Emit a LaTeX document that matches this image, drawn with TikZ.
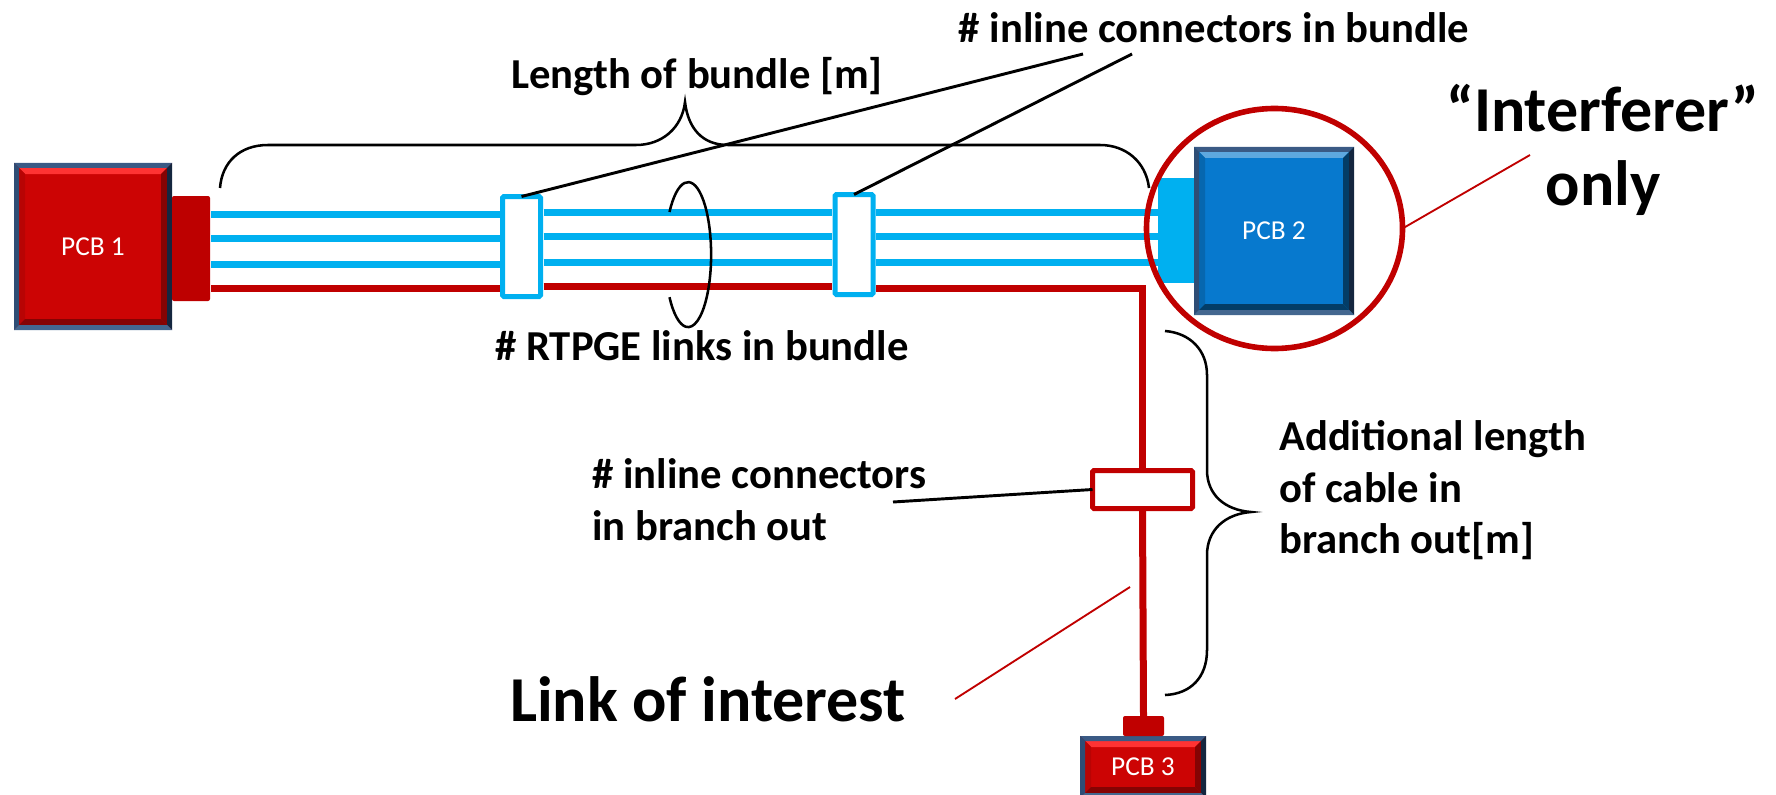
\documentclass[tikz,border=0pt]{standalone}
\usepackage{fontspec}
\setmainfont{Carlito}
\usepackage{tikz}
\usetikzlibrary{calc,shapes.geometric}

\definecolor{cableblue}{HTML}{00B0F0}
\definecolor{cablered}{HTML}{C00000}
\definecolor{facered}{HTML}{CC0404}
\definecolor{faceblue}{HTML}{0779CE}
\definecolor{frametop}{HTML}{3A5A85}
\definecolor{frameleft}{HTML}{2E4D75}
\definecolor{frameright}{HTML}{14263F}
\definecolor{framebottom}{HTML}{43678F}

\tikzset{
	pcbnode/.style={rectangle,inner sep=0pt,outer sep=0pt,text=white,font=\fontsize{20.5}{24}\selectfont},
	plugnode/.style={rectangle,inner sep=0pt,outer sep=0pt,rounded corners=1.5pt},
	inlinebox/.style={rectangle,draw,fill=white,line width=3.75pt,inner sep=0pt,outer sep=0pt,rounded corners=1pt},
	bluecable/.style={cableblue,line width=5.25pt},
	redcable/.style={cablered,line width=5.25pt},
	bracket/.style={black,line width=1.9pt},
	leader/.style={black,line width=2.2pt},
	redleader/.style={cablered,line width=1.4pt},
	label/.style={inner sep=0pt,font=\fontsize{32}{38.6}\selectfont\bfseries,align=left},
	biglabel/.style={inner sep=0pt,font=\fontsize{48}{55}\selectfont\bfseries,align=center},
}

\newcommand{\pcbbevel}[5]{%
	\coordinate (o1) at (#1.north west);
	\coordinate (o2) at (#1.south east);
	\coordinate (m1) at ($(o1)+(5,5)$);
	\coordinate (m2) at ($(o2)+(-5,-5)$);
	\coordinate (i1) at ($(m1)+(6,6)$);
	\coordinate (i2) at ($(m2)+(-6,-6)$);
	\fill[fill=#2] (m1) -- (m1 -| m2) -- (i1 -| i2) -- (i1) -- cycle;
	\fill[fill=#3] (m1) -- (m1 |- m2) -- (i1 |- i2) -- (i1) -- cycle;
	\fill[fill=#4] (m2) -- (m1 -| m2) -- (i1 -| i2) -- (i2) -- cycle;
	\fill[fill=#5] (m2) -- (m1 |- m2) -- (i1 |- i2) -- (i2) -- cycle;
	\fill[fill=frametop] (o1) -- (o1 -| o2) -- (m1 -| m2) -- (m1) -- cycle;
	\fill[fill=frameleft] (o1) -- (o1 |- o2) -- (m1 |- m2) -- (m1) -- cycle;
	\fill[fill=frameright] (o2) -- (o1 -| o2) -- (m1 -| m2) -- (m2) -- cycle;
	\fill[fill=framebottom] (o2) -- (o1 |- o2) -- (m1 |- m2) -- (m2) -- cycle;
}

\begin{document}
\begin{tikzpicture}[x=0.75pt,y=0.75pt,yscale=-1,xscale=1]
	\clip (0,0) rectangle (1776,795);
	\path[use as bounding box] (0,0) rectangle (1776,795);

	%PCBs and their plugs
	\node[pcbnode,fill=facered,minimum width=118.5pt,minimum height=125.25pt] (pcba) at (93,246.5) {PCB 1};
	\pcbbevel{pcba}{red!80!white}{facered!90!black}{facered!65!black}{facered!65!black}
	\node[pcbnode,fill=faceblue,minimum width=120pt,minimum height=126pt] (pcbb) at (1274,231) {PCB 2};
	\pcbbevel{pcbb}{faceblue!65!white}{faceblue!85!black}{faceblue!50!black}{faceblue!50!black}
	\node[pcbnode,fill=facered,minimum width=94.5pt,minimum height=46.5pt] (pcbc) at (1143,767) {PCB 3};
	\pcbbevel{pcbc}{red!80!white}{facered!90!black}{facered!65!black}{facered!65!black}
	\node[plugnode,fill=red!74!black,minimum width=28.5pt,minimum height=78.75pt] (pluga) at (191,248.5) {};
	\node[plugnode,fill=cableblue,rounded corners=0pt,minimum width=27pt,minimum height=78.75pt] (plugb) at (1176,230.5) {};
	\node[plugnode,fill=cablered,minimum width=30.75pt,minimum height=15pt] (plugc) at (1143.5,726) {};

	%Inline connectors
	\node[inlinebox,draw=cableblue,minimum width=28.5pt,minimum height=75pt] (boxa) at (521.5,246.5) {};
	\node[inlinebox,draw=cableblue,minimum width=28.5pt,minimum height=75pt] (boxb) at (854,244.5) {};
	\node[inlinebox,draw=cablered,minimum width=75pt,minimum height=28.5pt] (boxc) at (1142.5,489.5) {};

	%Straight Lines
	\foreach \ya/\yb in {214/212,238/236,264/262}{
		\draw[bluecable] (pluga.east |- 0,\ya) ++(1,0) -- ($(boxa.west |- 0,\ya)+(-3,0)$);
		\draw[bluecable] ($(boxa.east |- 0,\yb)+(3,0)$) -- ($(boxb.west |- 0,\yb)+(-3,0)$);
		\draw[bluecable] ($(boxb.east |- 0,\yb)+(3,0)$) -- (plugb.west |- 0,\yb);
	}
	\draw[redcable] (pluga.east |- 0,288) ++(1,0) -- ($(boxa.west |- 0,288)+(-3,0)$);
	\draw[redcable] ($(boxa.east |- 0,286)+(3,0)$) -- ($(boxb.west |- 0,286)+(-3,0)$);
	\draw[redcable] ($(boxb.east |- 0,288)+(3,0)$) -- (boxc.north |- 0,288) -- (boxc.north);
	\draw[redcable] (boxc.south) -- (plugc.north);

	%Bundle loop
	\draw[bracket] (669.5,212) arc[start angle=-144,end angle=144,x radius=23,y radius=72.5];

	%Brackets
	\draw[bracket] (220,188) .. controls (222,162) and (240,145) .. (268,145) -- (636,145) .. controls (662,145) and (682,128) .. (685,102) .. controls (688,128) and (702,145) .. (728,145) -- (1100,145) .. controls (1126,145) and (1146,162) .. (1149,188);
	\draw[bracket] (1165,331) .. controls (1190,333) and (1207,350) .. (1207,375) -- (1207,470) .. controls (1207,495) and (1225,510) .. (1251,512) .. controls (1225,514) and (1207,530) .. (1207,555) -- (1207,650) .. controls (1207,678) and (1190,694) .. (1165,695);

	%Interferer circle
	\node[ellipse,draw=cablered,line width=4.2pt,inner sep=0pt,outer sep=0pt,minimum width=192pt,minimum height=180pt] (circ) at (1274.5,228.5) {};

	% Text Node
	\node[label,anchor=center] (tconn) at (1214,28) {\# inline connectors in bundle};
	\node[label,anchor=center] (tlen) at (697,77) {Length of bundle [m]};
	\node[label,anchor=center] (tlinks) at (702,346) {\# RTPGE links in bundle};
	\node[label,anchor=north west] (tadd) at (1279,420.5) {Additional length\\of cable in\\branch out[m]};
	\node[label,anchor=north west] (tbranch) at (592,458.5) {\# inline connectors\\in branch out};
	\node[biglabel] (tint) at (1603,150) {“Interferer”\\only};
	\node[biglabel,anchor=center] (tlink) at (708,699) {Link of interest};

	%Leader lines
	\coordinate (enda) at (1083,54);
	\coordinate (endb) at (1132,54);
	\coordinate (endc) at (893,502);
	\coordinate (endd) at (1530,155);
	\coordinate (ende) at (955,699);
	\coordinate (endf) at (1130,587);
	\draw[leader] (boxa.north) -- (enda);
	\draw[leader] (boxb.north) -- (endb);
	\draw[leader] (endc) -- (boxc.west);
	\draw[redleader] (circ.east) -- (endd);
	\draw[redleader] (ende) -- (endf);
\end{tikzpicture}
\end{document}
